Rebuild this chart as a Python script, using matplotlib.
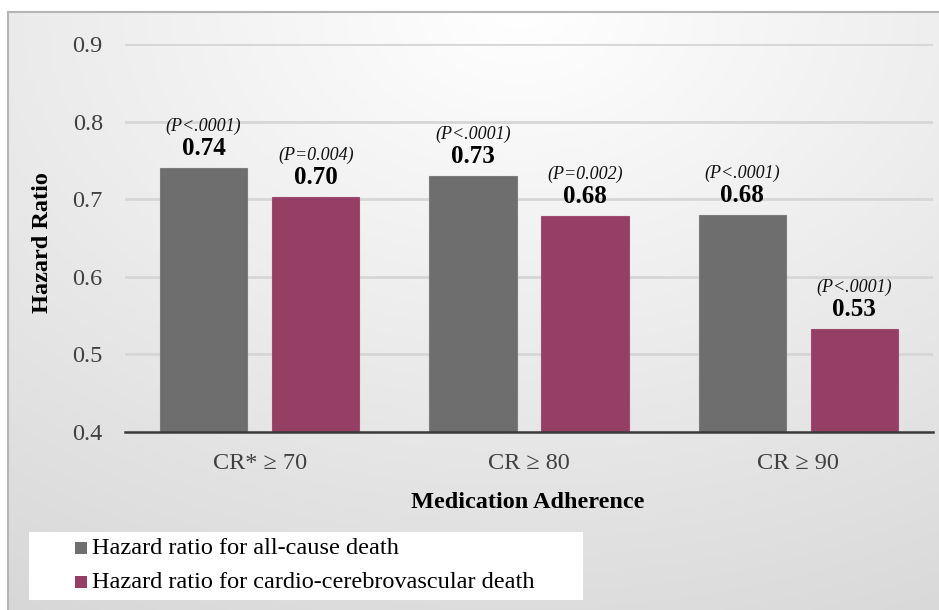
import numpy as np
import matplotlib.pyplot as plt
from matplotlib.patches import Rectangle

# -------------------------------
# Data
# -------------------------------
categories = ["CR* \u2265 70", "CR \u2265 80", "CR \u2265 90"]
all_cause = [0.74, 0.73, 0.68]
cardio = [0.703, 0.678, 0.533]
all_cause_labels = ["0.74", "0.73", "0.68"]
cardio_labels = ["0.70", "0.68", "0.53"]
all_cause_p = ["(P<.0001)", "(P<.0001)", "(P<.0001)"]
cardio_p = ["(P=0.004)", "(P=0.002)", "(P<.0001)"]
series_names = ["Hazard ratio for all-cause death",
                "Hazard ratio for cardio-cerebrovascular death"]

plt.rcParams['font.family'] = ['Liberation Serif', 'DejaVu Serif']

W, H = 939, 610
fig = plt.figure(figsize=(W / 100, H / 100), dpi=100)
fig.patch.set_facecolor("white")

# gradient background panel with grey border
bg = fig.add_axes([8 / W, 0, 1 - 8 / W, 1 - 12 / H])
yy, xx = np.mgrid[0:1:300j, 0:1:400j]
r = np.sqrt(((xx - 0.55) * 1.1) ** 2 + (yy * 1.0) ** 2)
shade = 1.0 - 0.16 * np.clip(r, 0, 1.2) / 1.2
bg.imshow(np.dstack([shade] * 3), aspect="auto", extent=[0, 1, 1, 0])
bg.set_xticks([])
bg.set_yticks([])
for s in bg.spines.values():
    s.set_color("#b5b5b5")
    s.set_linewidth(1.5)
bg.spines["right"].set_visible(False)
bg.spines["bottom"].set_visible(False)

# main axes: x 125..933 px, y 0.4 at 432 px, 0.9 at 44 px
ax_left, ax_right = 125, 933
y_bot, y_top = 432, 44
ax = fig.add_axes([ax_left / W, 1 - y_bot / H, (ax_right - ax_left) / W,
                   (y_bot - y_top) / H])
ax.patch.set_alpha(0)

x = np.arange(len(categories))
width = 0.325
off = 0.208
gray = "#6e6e6e"
maroon = "#953f65"

ax.bar(x - off, [v - 0.4 for v in all_cause], width, bottom=0.4,
       color=gray, edgecolor="#7c7c7c", linewidth=0.8, zorder=3)
ax.bar(x + off, [v - 0.4 for v in cardio], width, bottom=0.4,
       color=maroon, edgecolor="#a04c70", linewidth=0.8, zorder=3)

for i in range(len(categories)):
    for xpos, val, lab, p in [(x[i] - off, all_cause[i], all_cause_labels[i], all_cause_p[i]),
                              (x[i] + off, cardio[i], cardio_labels[i], cardio_p[i])]:
        ax.text(xpos, val + 0.017, lab, ha="center", va="baseline",
                fontsize=18, fontweight="bold", color="black", zorder=4)
        ax.text(xpos, val + 0.048, p, ha="center", va="baseline",
                fontsize=13, style="italic", color="#111111", zorder=4)

ax.set_xlim(-0.5, 2.5)
ax.set_ylim(0.4, 0.9)
ax.set_yticks([0.4, 0.5, 0.6, 0.7, 0.8, 0.9])
ax.set_yticklabels(["0.4", "0.5", "0.6", "0.7", "0.8", "0.9"])
ax.set_xticks(x)
ax.set_xticklabels(categories)
ax.tick_params(axis="y", length=0, pad=16, labelsize=17.5, labelcolor="#404040")
ax.tick_params(axis="x", length=0, pad=15, labelsize=17.5, labelcolor="#404040")
ax.yaxis.grid(True, color="#d6d6d6", linewidth=2, zorder=0)
for side in ["top", "right", "left"]:
    ax.spines[side].set_visible(False)
ax.spines["bottom"].set_color("#3a3a3a")
ax.spines["bottom"].set_linewidth(1.8)
ax.spines["bottom"].set_zorder(5)

fig.text(43 / W, 1 - 243 / H, "Hazard Ratio", rotation=90, ha="center",
         va="center", fontsize=17.5, fontweight="bold")
fig.text(528 / W, 1 - 502 / H, "Medication Adherence", ha="center",
         va="center", fontsize=17.5, fontweight="bold")

# legend box
fig.patches.append(Rectangle((29 / W, 1 - 600 / H), (583 - 29) / W, (600 - 532) / H,
                             transform=fig.transFigure, facecolor="white",
                             edgecolor="none", zorder=1))
leg_items = [(gray, series_names[0], 548), (maroon, series_names[1], 582)]
for col, name, ypix in leg_items:
    fig.patches.append(Rectangle((75 / W, 1 - (ypix + 6) / H), 12 / W, 12 / H,
                                 transform=fig.transFigure, facecolor=col,
                                 edgecolor="none", zorder=2))
    fig.text(92 / W, 1 - ypix / H, name, ha="left", va="center",
             fontsize=17.5, color="black", zorder=3)

fig.savefig("out.png", dpi=100)
